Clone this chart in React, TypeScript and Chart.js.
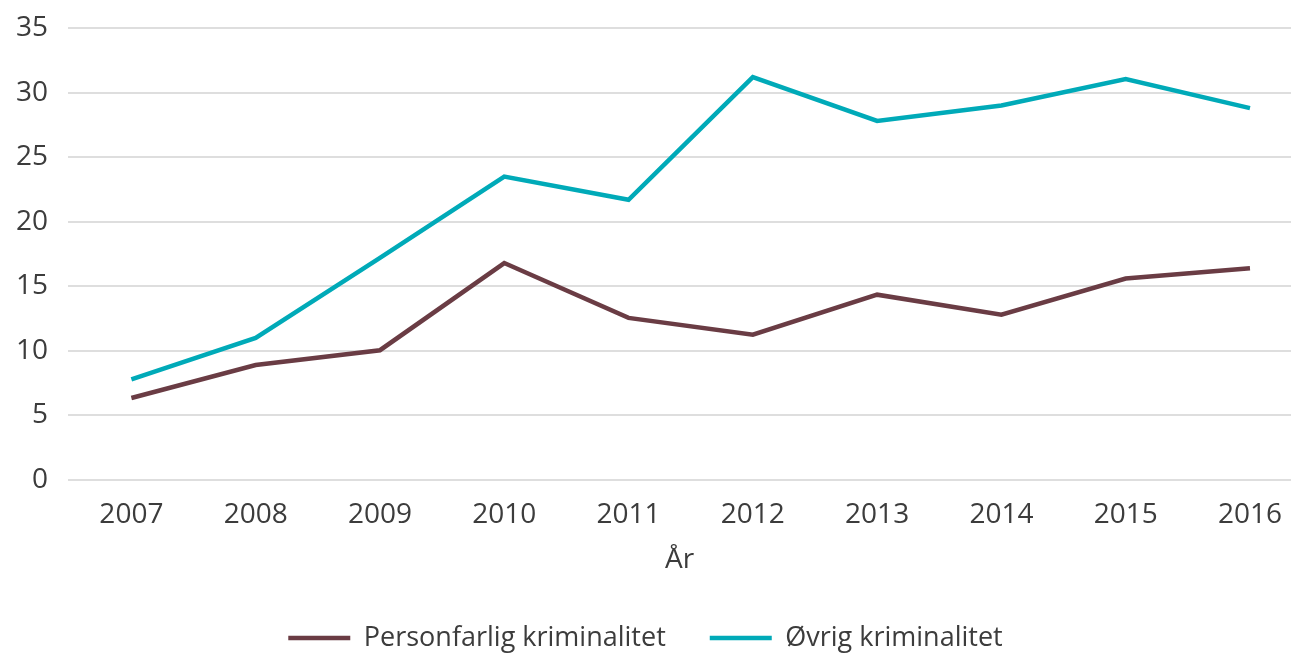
import React, { useEffect, useRef } from "react";
import { Chart, registerables } from "chart.js";

Chart.register(...registerables);

const years = [2007, 2008, 2009, 2010, 2011, 2012, 2013, 2014, 2015, 2016];
const personfarlig = [6.35, 8.9, 10.05, 16.8, 12.55, 11.25, 14.35, 12.8, 15.6, 16.4];
const ovrig = [7.8, 11.0, 17.2, 23.5, 21.7, 31.2, 27.8, 29.0, 31.05, 28.8];
const yTicks = [0, 5, 10, 15, 20, 25, 30, 35];

const seriesNames = ["Personfarlig kriminalitet", "Øvrig kriminalitet"];
const seriesColors = ["#6a3c44", "#00aab8"];

const FONT = "'Open Sans', 'DejaVu Sans', sans-serif";
const TEXT = "#3c3c3c";

export default function App() {
  const ref = useRef<HTMLCanvasElement | null>(null);

  useEffect(() => {
    document.body.style.margin = "0";
    const canvas = ref.current;
    if (!canvas) return;
    const toPts = (vals: number[]) => vals.map((v, i) => ({ x: years[i], y: v }));
    const chart = new Chart(canvas, {
      type: "line",
      data: {
        datasets: [
          {
            label: seriesNames[0],
            data: toPts(personfarlig),
            borderColor: seriesColors[0],
            backgroundColor: seriesColors[0],
            borderWidth: 4.5,
            pointRadius: 0,
            tension: 0,
          },
          {
            label: seriesNames[1],
            data: toPts(ovrig),
            borderColor: seriesColors[1],
            backgroundColor: seriesColors[1],
            borderWidth: 4.5,
            pointRadius: 0,
            tension: 0,
          },
        ],
      },
      options: {
        responsive: false,
        animation: false,
        layout: { padding: { top: 28, left: 0, right: 0, bottom: -8.5 } },
        scales: {
          x: {
            type: "linear",
            min: 2006.49,
            max: 2016.33,
            afterBuildTicks: (axis: any) => {
              axis.ticks = years.map((v) => ({ value: v }));
            },
            afterFit: (axis: any) => {
              axis.height = 100.5;
              axis.paddingLeft = 0;
              axis.paddingRight = 0;
            },
            grid: { display: false, drawTicks: false },
            border: { display: false },
            ticks: {
              padding: 18,
              color: TEXT,
              font: { family: FONT, size: 28 },
              callback: (v: any) => String(v),
              maxRotation: 0,
              autoSkip: false,
            },
            title: {
              display: true,
              text: "År",
              color: TEXT,
              font: { family: FONT, size: 28 },
              padding: { top: 0, bottom: 4 },
            },
          },
          y: {
            min: 0,
            max: 35,
            afterBuildTicks: (axis: any) => {
              axis.ticks = yTicks.map((v) => ({ value: v }));
            },
            afterFit: (axis: any) => {
              axis.width = 68;
              axis.paddingTop = 0;
              axis.paddingBottom = 0;
            },
            grid: { color: "#dedede", lineWidth: 2, drawTicks: false },
            border: { display: false },
            ticks: {
              padding: 20,
              color: TEXT,
              font: { family: FONT, size: 28 },
            },
          },
        },
        plugins: {
          tooltip: { enabled: false },
          legend: {
            position: "bottom",
            labels: {
              boxWidth: 62,
              boxHeight: 4.5,
              padding: 44,
              color: TEXT,
              font: { family: FONT, size: 27 },
              generateLabels: (c: any) =>
                Chart.defaults.plugins.legend.labels
                  .generateLabels(c)
                  .map((l: any, i: number) => ({
                    ...l,
                    lineWidth: 0,
                    fillStyle: seriesColors[i],
                    strokeStyle: seriesColors[i],
                  })),
            },
          },
        },
      },
    });
    return () => chart.destroy();
  }, []);

  return (
    <div style={{ width: 1291, height: 653 }}>
      <canvas ref={ref} width={1291} height={653} />
    </div>
  );
}
